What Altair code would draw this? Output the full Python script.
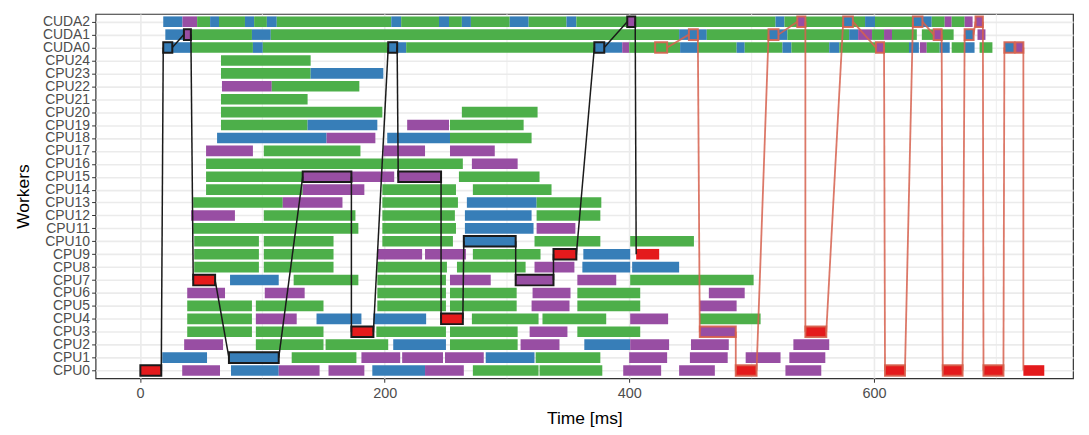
import altair as alt
import pandas as pd

# ---------------- data ----------------
workers = ["CPU0", "CPU1", "CPU2", "CPU3", "CPU4", "CPU5", "CPU6", "CPU7", "CPU8", "CPU9",
           "CPU10", "CPU11", "CPU12", "CPU13", "CPU14", "CPU15", "CPU16", "CPU17", "CPU18",
           "CPU19", "CPU20", "CPU21", "CPU22", "CPU23", "CPU24", "CUDA0", "CUDA1", "CUDA2"]

kinds = ["potrf", "trsm", "syrk", "gemm"]
kind_colors = ["#E41A1C", "#377EB8", "#984EA3", "#4DAF4A"]
R, B, P, G = kinds

x_ticks = [0, 200, 400, 600]
x_minor = [100, 300, 500, 700]

cuda2 = [(19.0, 34.7, B), (34.7, 46.7, P), (46.7, 57.3, G), (57.3, 64.6, B), (64.6, 85.8, G),
         (85.8, 93.3, B), (93.3, 103.7, G), (103.7, 111.8, B), (111.8, 205.4, G), (205.4, 213.5, B),
         (213.5, 244.4, G), (244.4, 252.6, B), (252.6, 263.1, G), (263.1, 270.5, B), (270.5, 302.2, G),
         (302.2, 317.7, B), (317.7, 348.6, G), (348.6, 356.7, B), (356.7, 398.3, G), (398.3, 404.8, P),
         (404.8, 519.5, G), (519.5, 526.8, B), (526.8, 537.3, G), (537.3, 543.9, P), (543.9, 574.8, G),
         (574.8, 582.7, B), (582.7, 592.7, G), (592.7, 600.8, B), (600.8, 631.8, G), (631.8, 639.6, B),
         (639.6, 647.2, B), (647.2, 657.8, G), (657.8, 663.5, P), (663.5, 674.1, G), (674.1, 680.6, P),
         (683.0, 689.0, P)]
cuda1 = [(20.7, 35.9, B), (35.9, 41.6, P), (41.6, 91.5, G), (91.5, 106.9, B), (106.9, 440.7, G),
         (440.7, 448.7, B), (448.7, 456.0, B), (456.0, 463.3, B), (463.3, 513.8, G), (513.8, 521.9, B),
         (521.9, 529.2, B), (529.2, 579.7, G), (579.7, 587.0, B), (587.0, 598.4, P), (598.4, 608.2, G),
         (608.2, 614.7, P), (614.7, 635.0, G), (639.1, 648.8, G), (648.8, 655.3, P), (655.3, 665.1, G),
         (674.1, 681.4, B), (684.6, 691.1, P)]
cuda0 = [(19.0, 26.4, B), (26.4, 41.6, B), (41.6, 92.3, G), (92.3, 100.4, B), (100.4, 202.9, G),
         (202.9, 210.2, B), (210.2, 217.6, B), (217.6, 371.4, G), (371.4, 379.5, B), (379.5, 394.2, B),
         (394.2, 399.9, P), (399.9, 421.1, G), (421.1, 430.9, G), (430.9, 441.5, G), (441.5, 456.0, B),
         (456.0, 487.7, G), (487.7, 494.3, B), (494.3, 525.2, G), (525.2, 532.5, B), (532.5, 563.4, G),
         (563.4, 571.6, B), (571.6, 601.6, G), (601.6, 608.2, P), (608.2, 628.6, G), (628.6, 636.7, B),
         (637.5, 643.1, P), (643.1, 653.7, G), (653.7, 661.9, B), (663.5, 674.1, G), (674.1, 682.2, B),
         (686.3, 696.8, G), (706.6, 714.8, B), (715.6, 722.1, P)]
cpu24 = [(66.2, 139.5, G)]
cpu23 = [(66.2, 139.5, G), (139.5, 198.9, B)]
cpu22 = [(67.0, 107.7, P), (107.7, 179.3, G)]
cpu21 = [(66.2, 137.0, G)]
cpu20 = [(66.2, 198.1, G), (263.1, 325.0, G)]
cpu19 = [(66.2, 137.0, G), (137.0, 194.0, B), (218.4, 252.6, P), (253.4, 313.6, G)]
cpu18 = [(63.0, 152.5, B), (152.5, 192.4, P), (202.1, 253.4, B), (253.4, 320.1, G)]
cpu17 = [(54.0, 92.3, P), (101.2, 180.2, G), (198.9, 233.0, P), (253.4, 290.0, P)]
cpu16 = [(54.0, 263.9, G), (271.3, 308.7, P)]
cpu15 = [(54.0, 133.0, G), (133.0, 172.8, P), (172.8, 207.8, P), (211.1, 246.1, P), (260.7, 326.6, G)]
cpu14 = [(54.0, 133.0, G), (133.0, 183.4, P), (198.1, 258.3, G), (272.1, 336.4, G)]
cpu13 = [(43.5, 116.7, G), (116.7, 165.5, P), (198.1, 259.9, G), (267.2, 324.2, B), (324.2, 377.1, G)]
cpu12 = [(41.8, 77.6, P), (101.2, 176.1, G), (198.1, 257.4, G), (265.6, 320.1, B), (324.2, 376.3, G)]
cpu11 = [(43.5, 178.5, G), (198.1, 258.3, G), (265.6, 321.7, B), (324.2, 355.9, P)]
cpu10 = [(44.3, 97.2, G), (101.2, 158.2, G), (198.1, 255.8, G), (264.7, 307.1, B), (322.5, 376.3, G),
         (400.7, 452.8, G)]
cpu9 = [(44.3, 97.2, G), (101.2, 158.2, G), (194.0, 230.6, P), (233.0, 266.4, P), (272.1, 327.4, G),
        (338.0, 356.7, R), (362.4, 400.7, B), (405.6, 424.4, R)]
cpu8 = [(44.3, 97.2, G), (101.2, 158.2, G), (194.0, 250.9, G), (259.1, 315.2, G), (322.5, 355.1, P),
        (361.6, 400.7, B), (402.3, 440.7, B)]
cpu7 = [(43.5, 61.4, R), (73.6, 113.4, B), (125.6, 178.5, G), (194.0, 250.1, G), (253.4, 286.7, P),
        (307.1, 338.0, P), (357.5, 389.3, P), (400.7, 501.6, G)]
cpu6 = [(38.6, 69.5, P), (102.0, 134.6, P), (194.0, 250.1, G), (253.4, 307.9, G), (320.9, 351.9, P),
        (357.5, 408.9, G), (465.0, 494.3, P)]
cpu5 = [(38.6, 91.5, G), (94.7, 150.0, G), (194.0, 250.1, G), (253.4, 307.9, G), (320.1, 351.1, P),
        (357.5, 408.9, G), (457.6, 487.7, P)]
cpu4 = [(38.6, 91.5, G), (94.7, 128.1, P), (144.3, 181.0, B), (190.8, 233.9, B), (246.1, 263.9, R),
        (271.3, 325.8, G), (329.0, 381.1, G), (400.7, 431.7, P), (457.6, 507.3, G)]
cpu3 = [(38.6, 91.5, G), (94.7, 150.0, G), (172.8, 190.8, R), (193.2, 250.1, G), (253.4, 308.7, G),
        (318.5, 349.4, P), (357.5, 408.9, G), (457.6, 487.0, P), (543.9, 561.0, R)]
cpu2 = [(36.1, 67.9, P), (94.7, 150.0, G), (151.7, 202.9, G), (207.0, 250.1, B), (253.4, 308.7, G),
        (311.1, 342.9, P), (363.2, 400.7, B), (400.7, 432.5, P), (450.4, 481.3, P), (534.1, 563.4, P)]
cpu1 = [(18.2, 54.8, B), (72.7, 113.4, B), (124.0, 176.9, G), (181.0, 212.7, P), (214.3, 247.7, P),
        (249.3, 281.0, P), (282.6, 322.5, B), (323.4, 376.3, G), (399.9, 430.9, P), (449.5, 480.4, P),
        (495.1, 523.6, P), (530.8, 560.2, P)]
cpu0 = [(0.3, 17.4, R), (34.5, 65.4, P), (74.4, 113.4, B), (113.4, 146.8, P), (154.1, 183.4, P),
        (189.9, 233.0, B), (233.0, 264.7, P), (272.1, 325.8, G), (326.6, 377.9, G), (395.0, 426.0, P),
        (440.7, 469.9, P), (487.0, 504.0, R), (527.6, 556.9, P), (609.0, 625.3, R), (656.2, 672.4, R),
        (689.5, 705.8, R), (722.1, 739.2, R)]

worker_tasks = {
    "CPU0": cpu0, "CPU1": cpu1, "CPU2": cpu2, "CPU3": cpu3, "CPU4": cpu4, "CPU5": cpu5,
    "CPU6": cpu6, "CPU7": cpu7, "CPU8": cpu8, "CPU9": cpu9, "CPU10": cpu10, "CPU11": cpu11,
    "CPU12": cpu12, "CPU13": cpu13, "CPU14": cpu14, "CPU15": cpu15, "CPU16": cpu16,
    "CPU17": cpu17, "CPU18": cpu18, "CPU19": cpu19, "CPU20": cpu20, "CPU21": cpu21,
    "CPU22": cpu22, "CPU23": cpu23, "CPU24": cpu24, "CUDA0": cuda0, "CUDA1": cuda1, "CUDA2": cuda2,
}

# critical paths (worker, start, end); every task but the last is outlined
path_black = [("CPU0", 0.3, 17.4), ("CUDA0", 19.0, 26.4), ("CUDA1", 35.9, 41.6), ("CPU7", 43.5, 61.4),
              ("CPU1", 72.7, 113.4), ("CPU15", 133.0, 172.8), ("CPU3", 172.8, 190.8),
              ("CUDA0", 202.9, 210.2), ("CPU15", 211.1, 246.1), ("CPU4", 246.1, 263.9),
              ("CPU10", 264.7, 307.1), ("CPU7", 307.1, 338.0), ("CPU9", 338.0, 356.7),
              ("CUDA0", 371.4, 379.5), ("CUDA2", 398.3, 404.8), ("CPU9", 405.6, 424.4)]
path_red = [("CUDA0", 421.1, 430.9), ("CUDA1", 448.7, 456.0), ("CPU3", 457.6, 487.0), ("CPU0", 487.0, 504.0),
            ("CUDA1", 513.8, 521.9), ("CUDA2", 537.3, 543.9), ("CPU3", 543.9, 561.0),
            ("CUDA2", 574.8, 582.7), ("CUDA0", 601.6, 608.2), ("CPU0", 609.0, 625.3),
            ("CUDA2", 631.8, 639.6), ("CUDA1", 648.8, 655.3), ("CPU0", 656.2, 672.4),
            ("CUDA1", 674.1, 681.4), ("CUDA2", 683.0, 689.0), ("CPU0", 689.5, 705.8),
            ("CUDA0", 706.6, 714.8), ("CUDA0", 715.6, 722.1), ("CPU0", 722.1, 739.2)]

# ---------------- tables ----------------
HALF = 0.41
widx = {w: i for i, w in enumerate(workers)}

rows = []
for w, lst in worker_tasks.items():
    for s, e, k in lst:
        rows.append({"worker": w, "start": s, "end": e, "kind": k,
                     "y0": widx[w] - HALF, "y1": widx[w] + HALF})
tasks_df = pd.DataFrame(rows)


def outline_df(path):
    return pd.DataFrame([{"worker": w, "start": s, "end": e,
                          "y0": widx[w] - HALF, "y1": widx[w] + HALF} for w, s, e in path[:-1]])


def segment_df(path):
    segs = []
    for (wa, sa, ea), (wb, sb, eb) in zip(path[:-1], path[1:]):
        segs.append({"x": ea, "x2": sb, "y": widx[wa], "y2": widx[wb]})
    return pd.DataFrame(segs)


label_expr = "[" + ",".join("'%s'" % w for w in workers) + "][datum.value]"

FONT = "Liberation Sans"
xscale = alt.Scale(domain=[-36.3, 762.7], nice=False, zero=False)
yscale = alt.Scale(domain=[-0.6, len(workers) - 0.4], nice=False, zero=False)

xaxis = alt.Axis(values=x_ticks, format="d", title="Time [ms]", grid=True, gridColor="#EBEBEB",
                 gridWidth=1.6, domain=False, tickColor="#333333", tickSize=4, tickWidth=1,
                 labelFont=FONT, labelFontSize=14.5, labelColor="#4D4D4D", labelPadding=4,
                 titleFont=FONT, titleFontSize=17.5, titleFontWeight="normal", titleColor="#000000",
                 titlePadding=10)
yaxis = alt.Axis(values=list(range(len(workers))), labelExpr=label_expr, title="Workers", grid=True,
                 gridColor="#EBEBEB", gridWidth=1.6, domain=False, tickColor="#333333", tickSize=4,
                 tickWidth=1, labelFont=FONT, labelFontSize=14, labelColor="#4D4D4D", labelPadding=2,
                 labelBaseline="middle", labelFlush=False, labelOverlap=False, labelBound=False,
                 titleFont=FONT, titleFontSize=17.5, titleFontWeight="normal", titleColor="#000000",
                 titlePadding=10)


def X(field):
    return alt.X(field, type="quantitative", scale=xscale, axis=xaxis)


def Y(field):
    return alt.Y(field, type="quantitative", scale=yscale, axis=yaxis)


minor = alt.Chart(pd.DataFrame({"t": x_minor})).mark_rule(color="#EBEBEB", strokeWidth=0.8).encode(
    x=X("t"),
    y=alt.value(0), y2=alt.value(366),
)

bars = alt.Chart(tasks_df).mark_rect().encode(
    x=X("start"), x2="end",
    y=Y("y0"), y2="y1",
    color=alt.Color("kind:N", scale=alt.Scale(domain=kinds, range=kind_colors), legend=None),
)

out_black = alt.Chart(outline_df(path_black)).mark_rect(
    fillOpacity=0, stroke="#1A1A1A", strokeWidth=2).encode(
    x=X("start"), x2="end", y=Y("y0"), y2="y1")

out_red = alt.Chart(outline_df(path_red)).mark_rect(
    fillOpacity=0, stroke="#D6604D", strokeWidth=2, strokeOpacity=0.9).encode(
    x=X("start"), x2="end", y=Y("y0"), y2="y1")

seg_black = alt.Chart(segment_df(path_black)).mark_rule(color="#1A1A1A", strokeWidth=1.5).encode(
    x=X("x"), x2="x2", y=Y("y"), y2="y2")

seg_red = alt.Chart(segment_df(path_red)).mark_rule(color="#D6604D", strokeWidth=1.8, opacity=0.85).encode(
    x=X("x"), x2="x2", y=Y("y"), y2="y2")

chart = alt.layer(minor, bars, out_black, out_red, seg_black, seg_red).properties(
    width=982, height=366,
    autosize=alt.AutoSizeParams(type="none"),
    padding={"left": 88, "top": 5, "right": 8, "bottom": 50},
    background="#FFFFFF",
).configure_view(stroke="#333333", strokeWidth=1.2)

chart.save("out.html", embed_options={"renderer": "svg", "actions": False})
